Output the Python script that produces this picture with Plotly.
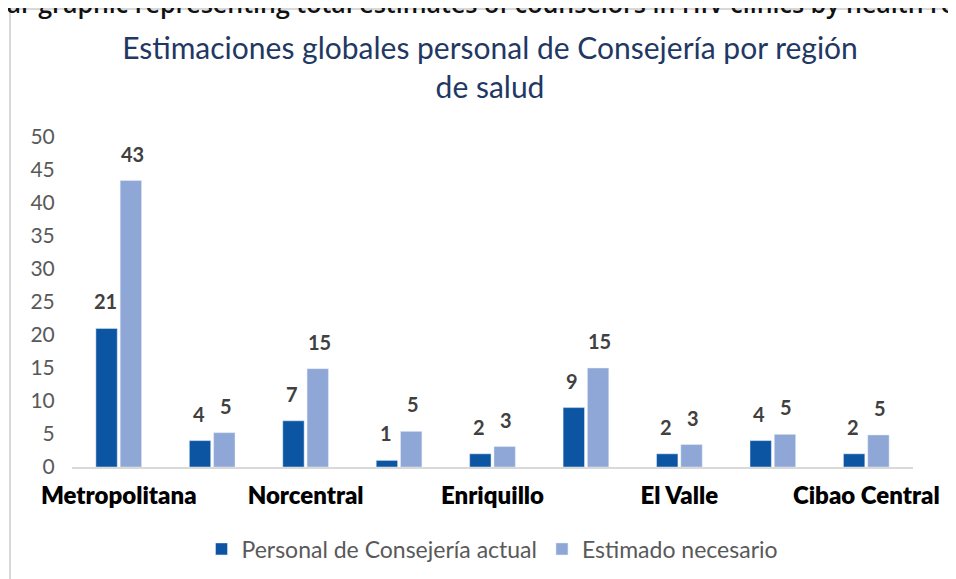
import plotly.graph_objects as go

# Data
regions = ["Metropolitana", "Valdesia", "Norcentral", "Nordeste", "Enriquillo",
           "Este", "El Valle", "Noroeste", "Cibao Central"]
shown_labels = ["Metropolitana", "Norcentral", "Enriquillo", "El Valle", "Cibao Central"]
personal_actual = [21, 4, 7, 1, 2, 9, 2, 4, 2]
estimado_necesario = [43.4, 5.2, 14.9, 5.4, 3.1, 15.0, 3.4, 4.95, 4.85]

W, H = 956, 579
OFF = 8  # page body margin shifts the figure by 8px
L, T = 72 - OFF, 137 - OFF
plot_w, plot_h = 841, 330
R = W - L - plot_w
B = H - T - plot_h

DARK = "#0b55a3"
LIGHT = "#8ea7d6"

fig = go.Figure()
fig.add_trace(go.Bar(x=regions, y=personal_actual, name="Personal de Consejería actual",
                     marker_color=DARK))
fig.add_trace(go.Bar(x=regions, y=estimado_necesario, name="Estimado necesario",
                     marker_color=LIGHT))

# data labels above each bar
annotations = []
for series, shift in ((personal_actual, -13.5), (estimado_necesario, 13.5)):
    for reg, val in zip(regions, series):
        annotations.append(dict(
            x=reg, y=val, xref="x", yref="y", text=f"{round(val)}",
            showarrow=False, yanchor="bottom", xshift=shift, yshift=13,
            font=dict(family="Lato", size=20, color="#404040", weight="bold")
        ))

# cut-off caption of the source document at the very top
annotations.append(dict(
    x=(-12 - OFF - L) / plot_w, y=1 + (T + OFF - 3) / plot_h, xref="paper", yref="paper",
    xanchor="left", yanchor="middle", showarrow=False,
    text="Bar graphic representing total estimates of counselors in HIV clinics by health region",
    font=dict(family="Open Sans", size=25, color="#111111", weight=600)
))

# grey frame around the chart
fx = 10 - OFF
fy = 9 - OFF
shapes = [
    dict(type="line", xref="paper", yref="paper",
         x0=(fx - L) / plot_w, x1=(W + 5 - L) / plot_w,
         y0=1 + (T - fy) / plot_h, y1=1 + (T - fy) / plot_h,
         line=dict(color="#d9d9d9", width=2)),
    dict(type="line", xref="paper", yref="paper",
         x0=(fx - L) / plot_w, x1=(fx - L) / plot_w,
         y0=1 + (T - fy) / plot_h, y1=-(B + 5) / plot_h,
         line=dict(color="#d9d9d9", width=2)),
]

fig.update_layout(
    width=W, height=H,
    margin=dict(l=L, r=R, t=T, b=B, autoexpand=False),
    paper_bgcolor="white", plot_bgcolor="white",
    barmode="group", bargap=0.48, bargroupgap=0.12,
    title=dict(
        text="Estimaciones globales personal de Consejería por región<br>de salud",
        x=(490 - OFF) / W, xanchor="center", y=1 - 51 / H, yanchor="middle",
        font=dict(family="Lato", size=30, color="#1f3864")
    ),
    xaxis=dict(
        tickmode="array", tickvals=shown_labels, ticktext=shown_labels,
        showline=True, linecolor="#d9d9d9", linewidth=1.5,
        ticks="outside", ticklen=6, tickcolor="white", showgrid=False,
        tickfont=dict(family="Lato", size=24, color="#000000", weight=800)
    ),
    yaxis=dict(
        range=[0, 50], dtick=5, showgrid=False, zeroline=False,
        showline=False, ticks="outside", ticklen=12, tickcolor="white",
        tickfont=dict(family="Lato", size=21, color="#595959")
    ),
    legend=dict(
        orientation="h", x=0.5, xanchor="center",
        y=-(549 - OFF - (T + plot_h)) / plot_h, yanchor="middle",
        font=dict(family="Lato", size=23, color="#595959"),
        itemwidth=30, traceorder="normal"
    ),
    annotations=annotations,
    shapes=shapes,
    showlegend=True,
)

fig.write_html("out.html")
